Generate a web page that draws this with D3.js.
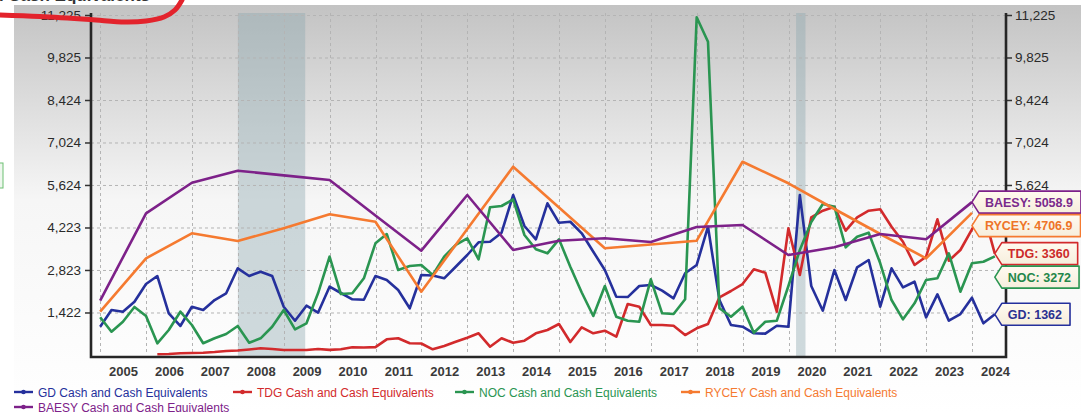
<!DOCTYPE html>
<head>
  <meta charset="utf-8">
  <script src="https://d3js.org/d3.v7.min.js"></script>
  <style>
    body { margin:0; background:#fff; overflow:hidden; }
    svg { display:block; font-family:"Liberation Sans", Arial, sans-serif; }
  </style>
</head>
<body>
<div id="chart"></div>
<script>
  var width = 1081;
  var height = 412;
  var plot = {left: 91, right: 1006, top: 15, bottom: 355};

  // annual reporters, fiscal year ends 2004..2023
  var annualYears = [2004,2005,2006,2007,2008,2009,2010,2011,2012,2013,2014,2015,2016,2017,2018,2019,2020,2021,2022,2023];
  var baesyVals = [1810,4690,5698,6094,5940,5787,4620,3458,5293,3481,3787,3866,3744,4239,4304,3316,3570,4008,3833,5058.9];
  var ryceyVals = [1448,3207,4031,3777,4200,4657,4413,2107,4170,6225,4880,3537,3662,3787,6390,5679,4832,4008,3207,4706.9];

  // quarterly reporters, quarter ends Dec 2004 .. Jun 2024
  var quarterCount = 79;
  var gdVals = [953,1504,1448,1777,2360,2624,1395,977,1612,1504,
                1833,2054,2878,2624,2766,2624,1612,1151,1645,1415,
                2271,2064,1856,1840,2624,2492,2163,1560,2657,2640,
                2548,2930,3316,3734,3754,4051,5293,4272,3833,5019,
                4380,4413,4031,3425,2822,1942,1930,2295,2328,2140,
                1889,2713,2987,4248,1833,1010,953,736,725,986,
                953,5293,2295,1481,2822,1833,2911,3151,1612,2878,
                2252,2436,1263,2021,1151,1372,1909,1066,1362];
  var nocVals = [1263,789,1118,1603,1306,407,845,1448,1010,407,
                 571,713,977,426,571,953,1504,868,1066,2054,
                 3260,2031,2054,2548,3701,4008,2822,2954,2987,2657,
                 3260,3646,3866,3174,4888,4931,5151,3975,3504,3372,
                 3833,2930,2080,1306,2295,1283,1151,1118,2515,1395,
                 1372,1856,11150,10344,1560,1283,1612,756,1118,1151,
                 2295,3481,4403,4996,4907,3570,3919,4051,3043,1833,
                 1197,1724,2492,2548,3372,2107,3043,3095,3272];
  var tdgVals = [null,null,null,null,null,44,54,77,87,97,
                 120,153,169,202,242,219,186,186,186,219,
                 190,209,275,270,280,538,571,406,400,209,
                 318,459,591,736,294,571,426,492,736,845,
                 1042,449,934,736,822,624,1701,1612,1010,1010,
                 986,680,901,1042,1922,2130,2360,2845,2733,1448,
                 4196,2657,4558,4776,4907,4117,4558,4776,4822,4248,
                 3754,2987,3260,4493,3128,3481,4163,4733,3360];

  var yTicks = [1422,2823,4223,5624,7024,8424,9825,11225];
  var yearLabels = [2005,2006,2007,2008,2009,2010,2011,2012,2013,2014,2015,2016,2017,2018,2019,2020,2021,2022,2023,2024];
  var recessions = [["2008-01-01","2009-06-20"],["2020-03-01","2020-05-15"]];

  var series = [
    {key:"GD",    name:"GD Cash and Cash Equivalents",    color:"#25309c", text:"#2b3190", freq:"q", vals:gdVals,    label:"1362"},
    {key:"TDG",   name:"TDG Cash and Cash Equivalents",   color:"#d22a2c", text:"#cc2a2a", freq:"q", vals:tdgVals,   label:"3360"},
    {key:"NOC",   name:"NOC Cash and Cash Equivalents",   color:"#2a9551", text:"#24874a", freq:"q", vals:nocVals,   label:"3272"},
    {key:"RYCEY", name:"RYCEY Cash and Cash Equivalents", color:"#f57a30", text:"#ee7428", freq:"a", vals:ryceyVals, label:"4706.9"},
    {key:"BAESY", name:"BAESY Cash and Cash Equivalents", color:"#7d2189", text:"#7a2a8c", freq:"a", vals:baesyVals, label:"5058.9"}
  ];

  var quarterDates = d3.range(quarterCount).map(function(i){ return new Date(2004, 12 + 3*i, 0); });
  var annualDates = annualYears.map(function(y){ return new Date(y, 11, 31); });

  series.forEach(function(s){
    var dates = s.freq == "q" ? quarterDates : annualDates;
    s.points = s.vals.map(function(v, i){ return {date: dates[i], value: v}; });
  });

  var xScale = d3.scaleTime()
    .domain([new Date(2004, 9, 19), new Date(2024, 8, 27)])
    .range([plot.left, plot.right]);
  var yScale = d3.scaleLinear()
    .domain([21, 11225])
    .range([plot.bottom, plot.top]);

  var svg = d3.select("#chart").append("svg")
    .attr("width", width)
    .attr("height", height);

  // background gradient
  var defs = svg.append("defs");
  var grad = defs.append("linearGradient").attr("id","bg").attr("x1",0).attr("y1",0).attr("x2",0).attr("y2",1);
  grad.append("stop").attr("offset","0").attr("stop-color","#c3c3c3");
  grad.append("stop").attr("offset","0.48").attr("stop-color","#f6f6f6");
  grad.append("stop").attr("offset","1").attr("stop-color","#ffffff");
  var lgrad = defs.append("linearGradient").attr("id","lab").attr("x1",0).attr("y1",0).attr("x2",0).attr("y2",1);
  lgrad.append("stop").attr("offset","0").attr("stop-color","#fffaf0");
  lgrad.append("stop").attr("offset","1").attr("stop-color","#f6eedc");

  svg.append("rect")
    .attr("x", 14).attr("y", 5)
    .attr("width", width - 14).attr("height", height - 5)
    .attr("fill", "url(#bg)");

  // cropped bits at the edges of the screenshot
  svg.append("text")
    .attr("x", 150).attr("y", 1)
    .attr("text-anchor","end")
    .attr("font-size","17px").attr("font-weight","bold")
    .attr("fill","#333")
    .text("Cash and Cash Equivalents");
  svg.append("rect")
    .attr("x", -8).attr("y", 163).attr("width", 11).attr("height", 25)
    .attr("fill", "#eef7ee").attr("stroke", "#6cbf72");

  // recession bands
  svg.selectAll(".rec")
    .data(recessions)
    .enter().append("rect")
    .attr("x", function(d){ return xScale(new Date(d[0])); })
    .attr("width", function(d){ return xScale(new Date(d[1])) - xScale(new Date(d[0])); })
    .attr("y", 13)
    .attr("height", plot.bottom + 2 - 13)
    .attr("fill", "#8fa9b0")
    .attr("opacity", 0.42);

  // grid
  var grid = svg.append("g").attr("stroke", "#b4b4b4").attr("stroke-dasharray", "3,3").attr("stroke-width", 1);
  grid.selectAll(".hg")
    .data(yTicks)
    .enter().append("line")
    .attr("x1", plot.left).attr("x2", plot.right)
    .attr("y1", function(d){ return yScale(d) + 0.5; })
    .attr("y2", function(d){ return yScale(d) + 0.5; });
  grid.selectAll(".vg")
    .data(yearLabels)
    .enter().append("line")
    .attr("x1", function(d){ return Math.round(xScale(new Date(d, 0, 1))) + 0.5; })
    .attr("x2", function(d){ return Math.round(xScale(new Date(d, 0, 1))) + 0.5; })
    .attr("y1", plot.top - 2).attr("y2", plot.bottom);

  // lines
  var line = d3.line()
    .defined(function(d){ return d.value != null; })
    .x(function(d){ return xScale(d.date); })
    .y(function(d){ return yScale(d.value); });

  svg.selectAll(".series")
    .data(series)
    .enter().append("path")
    .attr("d", function(d){ return line(d.points); })
    .attr("fill", "none")
    .attr("stroke", function(d){ return d.color; })
    .attr("stroke-width", 2.6)
    .attr("stroke-linejoin", "round");

  // axes
  var yAxisL = d3.axisLeft(yScale).tickValues(yTicks).tickFormat(d3.format(",")).tickSize(6).tickPadding(4);
  var yAxisR = d3.axisRight(yScale).tickValues(yTicks).tickFormat(d3.format(",")).tickSize(6).tickPadding(3);
  var xAxis = d3.axisBottom(xScale)
    .tickValues(yearLabels.map(function(y){ return new Date(y, 6, 1); }))
    .tickFormat(d3.timeFormat("%Y"))
    .tickSize(0).tickPadding(10);

  var gl = svg.append("g").attr("transform", "translate(" + plot.left + ",0)").call(yAxisL);
  var gr = svg.append("g").attr("transform", "translate(" + plot.right + ",0)").call(yAxisR);
  var gx = svg.append("g").attr("transform", "translate(0," + (plot.bottom + 2) + ")").call(xAxis);
  [gl, gr, gx].forEach(function(g){
    g.select(".domain").remove();
    g.selectAll("text").attr("font-size", "13.5px").attr("fill", "#2a2a2a").attr("font-family", "Liberation Sans, Arial, sans-serif");
    g.selectAll("line").attr("stroke", "#333").attr("stroke-width", 1.5);
  });
  gx.selectAll("text").attr("font-weight", "bold").attr("fill", "#3a3a3a").attr("font-size", "13px");

  // axis frame
  svg.append("path")
    .attr("d", "M" + plot.left + "," + (plot.top - 2) + "V" + (plot.bottom + 2) + "H" + plot.right + "V" + (plot.top - 2))
    .attr("fill", "none").attr("stroke", "#262626").attr("stroke-width", 2.6);

  // end labels, nudged apart so they do not overlap
  var labels = series.map(function(s){
    var last = s.points[s.points.length - 1];
    return {s: s, tipX: xScale(last.date), tipY: yScale(last.value), y: yScale(last.value)};
  }).sort(function(a, b){ return a.tipY - b.tipY; });
  for (var i = 1; i < labels.length; i++) {
    if (labels[i].y - labels[i-1].y < 23.5) labels[i].y = labels[i-1].y + 23.5;
  }

  var lab = svg.selectAll(".endlab")
    .data(labels)
    .enter().append("g");
  lab.append("path").attr("class", "box");
  lab.append("text")
    .attr("x", function(d){ return d.tipX + 13; })
    .attr("y", function(d){ return d.y + 4.5; })
    .attr("font-size", "12.5px").attr("font-weight", "bold")
    .attr("fill", function(d){ return d.s.text; })
    .text(function(d){ return d.s.key + ": " + d.s.label; });
  lab.each(function(d){
    var g = d3.select(this);
    var w = g.select("text").node().getComputedTextLength() + 21;
    var x0 = d.tipX, yc = d.y, h = 11;
    g.select(".box")
      .attr("d", "M" + x0 + "," + yc + "L" + (x0 + 7) + "," + (yc - h) + "H" + (x0 + w) + "V" + (yc + h) + "H" + (x0 + 7) + "Z")
      .attr("fill", "url(#lab)")
      .attr("stroke", d.s.color)
      .attr("stroke-width", 1.6)
      .attr("stroke-linejoin", "round");
  });

  // legend
  var legendPos = [[14, 392], [233, 392], [455, 392], [681, 392], [14, 407]];
  var leg = svg.selectAll(".leg")
    .data(series)
    .enter().append("g")
    .attr("transform", function(d, i){ return "translate(" + legendPos[i][0] + "," + legendPos[i][1] + ")"; });
  leg.append("line")
    .attr("x1", 0).attr("x2", 19).attr("y1", 0).attr("y2", 0)
    .attr("stroke", function(d){ return d.color; }).attr("stroke-width", 2.4);
  leg.append("circle")
    .attr("cx", 9.5).attr("cy", 0).attr("r", 2.3)
    .attr("fill", function(d){ return d.color; });
  leg.append("text")
    .attr("x", 24).attr("y", 4.5)
    .attr("font-size", "12px")
    .attr("fill", function(d){ return d.color; })
    .text(function(d){ return d.name; });

  // red hand-drawn mark over the top left corner
  var scribble = [[0,15],[40,16.5],[90,19.5],[125,22],[146,21],[164,17],[175,10],[182,0]];
  svg.append("path")
    .attr("d", d3.line().curve(d3.curveCatmullRom)(scribble))
    .attr("fill", "none").attr("stroke", "#e3232c").attr("stroke-width", 5)
    .attr("stroke-linecap", "round");
</script>
</body>
